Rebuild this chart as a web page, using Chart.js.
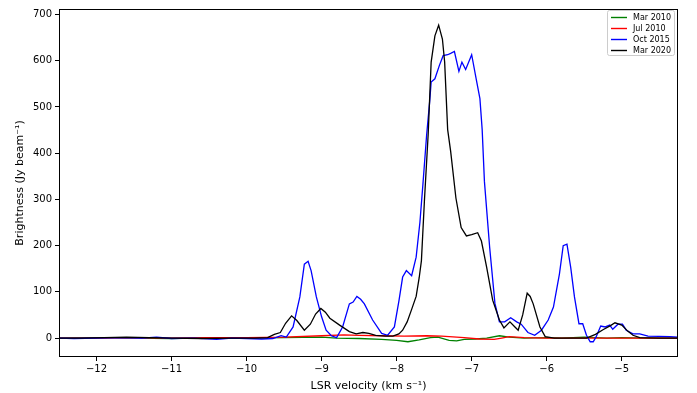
<!DOCTYPE html>
<html>
<head>
<meta charset="utf-8">
<script src="https://cdn.jsdelivr.net/npm/chart.js@4.4.0/dist/chart.umd.min.js"></script>
<style>
html,body{margin:0;padding:0;background:#fff;}
canvas{display:block;}
</style>
</head>
<body>
<canvas id="c" width="697" height="393"></canvas>
<script>
const seriesLabels = ["Mar 2010", "Jul 2010", "Oct 2015", "Mar 2020"];
const seriesColors = ["#008000", "#ff0000", "#0000ff", "#000000"];
const xTicks = [-12, -11, -10, -9, -8, -7, -6, -5];
const yTicks = [0, 100, 200, 300, 400, 500, 600, 700];

const velMar2010 = [-12.5,-12.0,-11.5,-11.0,-10.5,-10.0,-9.5,-9.0,-8.8,-8.5,-8.2,-8.0,-7.85,-7.7,-7.55,-7.45,-7.3,-7.2,-7.1,-6.95,-6.8,-6.63,-6.5,-6.3,-6.0,-5.8,-5.5,-5.2,-5.0,-4.7,-4.25];
const mar2010 = [0,1,0,-1,1,0,1,2,0,-1,-3,-5,-8,-4,1,2,-5,-6,-3,-2,0,5,2,0,1,0,2,0,1,0,0];

const velJul2010 = [-12.5,-12.0,-11.5,-11.0,-10.5,-10.0,-9.5,-9.0,-8.7,-8.5,-8.2,-7.9,-7.6,-7.4,-7.1,-6.9,-6.7,-6.6,-6.5,-6.3,-6.0,-5.5,-5.0,-4.25];
const jul2010 = [0,0,1,0,1,1,2,5,7,6,5,4,5,4,1,-2,-3,0,3,1,0,0,0,0];

const velOct2015 = [-12.5,-12.3,-12.0,-11.7,-11.4,-11.2,-11.0,-10.7,-10.4,-10.2,-10.0,-9.8,-9.65,-9.54,-9.47,-9.38,-9.29,-9.23,-9.18,-9.14,-9.07,-9.0,-8.94,-8.87,-8.8,-8.72,-8.63,-8.58,-8.53,-8.48,-8.43,-8.32,-8.2,-8.12,-8.03,-7.97,-7.92,-7.87,-7.8,-7.74,-7.69,-7.65,-7.6,-7.56,-7.54,-7.49,-7.43,-7.38,-7.32,-7.28,-7.23,-7.17,-7.13,-7.08,-7.0,-6.94,-6.89,-6.86,-6.83,-6.76,-6.69,-6.63,-6.56,-6.48,-6.4,-6.34,-6.25,-6.16,-6.07,-5.98,-5.91,-5.83,-5.78,-5.73,-5.68,-5.63,-5.57,-5.52,-5.47,-5.42,-5.38,-5.34,-5.28,-5.22,-5.16,-5.12,-5.05,-4.99,-4.94,-4.85,-4.76,-4.65,-4.36,-4.25];
const oct2015 = [0,-1,0,1,0,2,-1,0,-3,0,-1,-2,-1,5,2,24,89,160,166,146,89,46,17,5,1,24,74,78,90,84,74,39,10,6,24,80,132,146,135,175,250,332,440,511,554,561,590,611,613,616,620,577,597,581,613,561,518,451,339,196,75,35,35,44,35,30,12,6,17,39,67,139,200,203,153,89,31,31,6,-8,-8,3,26,24,28,19,30,30,17,9,9,4,3,2];

const velMar2020 = [-12.5,-12.2,-11.9,-11.6,-11.3,-11.0,-10.6,-10.2,-9.9,-9.72,-9.63,-9.55,-9.48,-9.4,-9.33,-9.23,-9.15,-9.08,-9.01,-8.95,-8.89,-8.76,-8.63,-8.54,-8.45,-8.37,-8.28,-8.15,-8.05,-7.97,-7.92,-7.86,-7.8,-7.74,-7.7,-7.67,-7.63,-7.58,-7.54,-7.49,-7.44,-7.39,-7.36,-7.32,-7.28,-7.21,-7.14,-7.07,-7.0,-6.92,-6.87,-6.8,-6.72,-6.63,-6.57,-6.49,-6.43,-6.38,-6.32,-6.26,-6.22,-6.18,-6.09,-6.02,-5.9,-5.6,-5.47,-5.35,-5.25,-5.15,-5.09,-5.0,-4.92,-4.85,-4.76,-4.5,-4.25];
const mar2020 = [0,0,1,2,1,0,-1,0,0,1,8,12,32,48,38,17,30,52,64,56,43,28,14,9,12,10,6,4,4,9,17,35,62,90,130,167,296,440,597,654,677,647,597,451,404,303,239,221,224,228,210,153,82,39,22,35,25,17,50,97,90,74,24,3,0,0,0,8,18,27,33,28,15,6,1,0,0];

const vels = [velMar2010, velJul2010, velOct2015, velMar2020];
const vals = [mar2010, jul2010, oct2015, mar2020];

const font = "'DejaVu Sans', sans-serif";
const fmt = v => String(v).replace('-', '\u2212');

const frame = {
  id: 'frame',
  afterDraw(chart) {
    const ctx = chart.ctx, a = chart.chartArea;
    ctx.save();
    ctx.strokeStyle = '#000';
    ctx.lineWidth = 1;
    ctx.strokeRect(Math.round(a.left) + 0.5, Math.round(a.top) + 0.5, Math.round(a.right - a.left) - 1, Math.round(a.bottom - a.top) - 1);
    // legend
    const bx = 607.5, by = 10.5, bw = 67, bh = 45;
    ctx.fillStyle = 'rgba(255,255,255,0.8)';
    ctx.strokeStyle = '#cccccc';
    ctx.beginPath();
    if (ctx.roundRect) ctx.roundRect(bx, by, bw, bh, 2); else ctx.rect(bx, by, bw, bh);
    ctx.fill(); ctx.stroke();
    ctx.font = "8px " + font;
    ctx.textBaseline = 'middle';
    chart.data.datasets.forEach((ds, i) => {
      const y = 17.5 + i * 11;
      ctx.strokeStyle = ds.borderColor;
      ctx.lineWidth = 1.4;
      ctx.beginPath(); ctx.moveTo(611, y); ctx.lineTo(627, y); ctx.stroke();
      ctx.fillStyle = '#000';
      ctx.fillText(ds.label, 633, y + 0.5);
    });
    ctx.restore();
  }
};

new Chart(document.getElementById('c'), {
  type: 'line',
  data: {
    datasets: seriesLabels.map((lab, i) => ({
      label: lab,
      data: vels[i].map((x, j) => ({x: x, y: vals[i][j]})),
      borderColor: seriesColors[i],
      backgroundColor: seriesColors[i],
      borderWidth: 1.3,
      pointRadius: 0,
      tension: 0,
      fill: false,
      order: seriesLabels.length - i
    }))
  },
  options: {
    responsive: false,
    animation: false,
    devicePixelRatio: 1,
    layout: {padding: {left: 0, right: 19, top: 6, bottom: 0}},
    plugins: {legend: {display: false}, tooltip: {enabled: false}},
    scales: {
      x: {
        type: 'linear', min: -12.5, max: -4.25,
        afterBuildTicks: s => { s.ticks = xTicks.map(v => ({value: v})); },
        afterFit: s => { s.height = 36; },
        grid: {display: true, drawOnChartArea: false, drawTicks: true, tickLength: 4, color: '#000'},
        border: {display: false},
        ticks: {color: '#000', font: {family: font, size: 10}, padding: 2, maxRotation: 0, callback: v => fmt(v)},
        title: {display: true, text: 'LSR velocity (km s\u207B\u00B9)', color: '#000', font: {family: font, size: 11}, padding: {top: 0, bottom: 0}}
      },
      y: {
        type: 'linear', min: -41, max: 712,
        afterBuildTicks: s => { s.ticks = yTicks.map(v => ({value: v})); },
        afterFit: s => { s.width = 59; },
        grid: {display: true, drawOnChartArea: false, drawTicks: true, tickLength: 4, color: '#000'},
        border: {display: false},
        ticks: {color: '#000', font: {family: font, size: 10}, padding: 3, callback: v => fmt(v)},
        title: {display: true, text: 'Brightness (Jy beam\u207B\u00B9)', color: '#000', font: {family: font, size: 11}, padding: {top: 14, bottom: 0}}
      }
    }
  },
  plugins: [frame]
});
</script>
</body>
</html>
